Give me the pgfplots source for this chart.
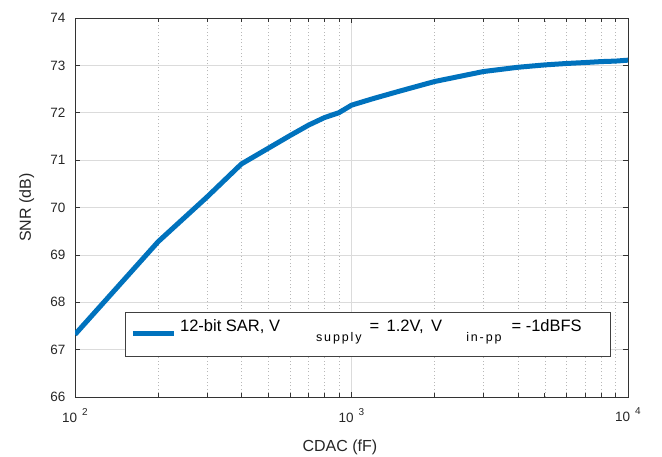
\documentclass[border=0pt]{standalone}
\usepackage{pgfplots}
\pgfplotsset{compat=1.18}
\usepackage{fontspec}
\setmainfont{Liberation Sans}
\definecolor{mblue}{HTML}{0072BD}
\begin{document}
\begin{tikzpicture}
\path[use as bounding box] (-75pt,-60pt) rectangle (587pt,397pt);
\begin{axis}[
  at={(0pt,0pt)}, anchor=south west,
  scale only axis, width=553pt, height=379pt,
  xmode=log, xmin=100, xmax=10000,
  ymin=66, ymax=74,
  ytick={66,67,...,74},
  xtick={100,1000,10000},
  xticklabels={10\hspace{5pt}\raisebox{7pt}{\fontsize{10}{10}\selectfont 2},
               10\hspace{5pt}\raisebox{7pt}{\fontsize{10}{10}\selectfont 3},
               10\hspace{5pt}\raisebox{7pt}{\fontsize{10}{10}\selectfont 4}},
  /pgf/number format/assume math mode=true,
  tick label style={font=\fontsize{13.5}{14}\selectfont, color=black!85},
  yticklabel style={xshift=-6pt},
  xticklabel style={yshift=-7.5pt},
  tick align=inside,
  major tick length=5pt, minor tick length=3.5pt,
  every tick/.style={black!80, line width=0.6pt},
  axis line style={black!80, line width=0.8pt},
  xmajorgrids, ymajorgrids, xminorgrids,
  major grid style={black!14, line width=0.6pt},
  minor grid style={black!28, line width=0.5pt, dash pattern=on 1pt off 2.5pt},
  xlabel={CDAC (fF)}, ylabel={SNR (dB)},
  label style={font=\fontsize{16}{18}\selectfont, color=black!85},
  xlabel style={at={(axis description cs:0.479,0)}, anchor=base, yshift=-55pt},
  ylabel style={at={(axis description cs:-0.0796,0.5)}, anchor=base},
  legend image code/.code={\draw[#1] (0pt,0.5pt) -- (41pt,0.5pt);},
  legend style={at={(0.0904,0.2243)}, anchor=north west, draw=black!75, line width=0.8pt,
    fill=white, inner xsep=5pt, inner ysep=7pt, column sep=3.75pt,
    font=\fontsize{16.5}{18}\selectfont,
    nodes={inner sep=0pt, text depth=18pt, text height=12pt}},
]
\addplot[mblue, line width=5pt] coordinates {
(100,67.32) (200,69.28) (300,70.22) (400,70.92) (500,71.25) (600,71.52)
(700,71.74) (800,71.90) (900,72.00) (1000,72.16) (1200,72.30) (1500,72.46)
(2000,72.66) (3000,72.87) (4000,72.96) (5000,73.01) (6000,73.04)
(7000,73.06) (8000,73.08) (9000,73.09) (10000,73.11)
};
\addlegendentry{12-bit SAR, V\hspace{36pt}\raisebox{-10pt}{\fontsize{12.5}{13}\selectfont\addfontfeatures{LetterSpace=15}supply}\hspace{8pt}=\hspace{7.5pt}1.2V,\hspace{7.5pt}V\hspace{24pt}\raisebox{-10pt}{\fontsize{12.5}{13}\selectfont\addfontfeatures{LetterSpace=15}in-pp}\hspace{10pt}= -1dBFS\hspace{24pt}\mbox{}}
\end{axis}
\end{tikzpicture}
\end{document}
